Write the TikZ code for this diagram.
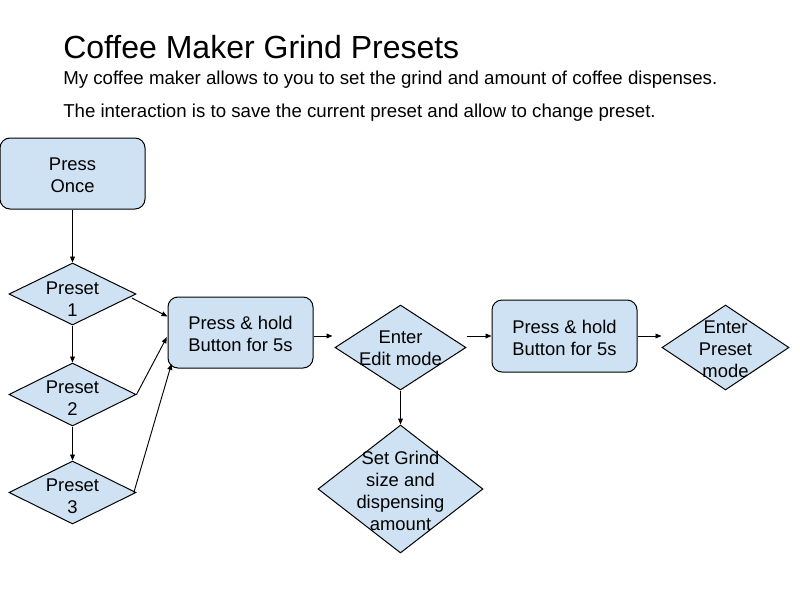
\documentclass[tikz,border=0pt]{standalone}
\usepackage{fontspec}
\setmainfont{Liberation Sans}
\usetikzlibrary{shapes.geometric,arrows.meta,calc}
\definecolor{boxfill}{HTML}{CFE2F3}
\tikzset{
  rbox/.style={draw=black, fill=boxfill, line width=0.75pt, rounded corners=7.5pt, inner sep=0pt, minimum width=108.75pt, minimum height=53.25pt},
  dia/.style={draw=black, fill=boxfill, line width=0.75pt, diamond, inner sep=0pt},
  txt/.style={font=\fontsize{13.8pt}{16.5pt}\selectfont, align=center, inner sep=0pt, text=black},
  arr/.style={line width=0.7pt, -{Triangle[length=4.5pt,width=3.6pt]}},
}
\begin{document}
\begin{tikzpicture}[x=0.75pt,y=-0.75pt]
\useasboundingbox (0,0) rectangle (800,600);
\fill[white] (0,0) rectangle (800,600);
% header text
\node[anchor=base west, inner sep=0pt, font=\fontsize{24pt}{28pt}\selectfont] (title) at (63,58.3) {Coffee Maker Grind Presets};
\node[anchor=base west, inner sep=0pt, font=\fontsize{14pt}{17pt}\selectfont] (line1) at (63,84.3) {My coffee maker allows to you to set the grind and amount of coffee dispenses.};
\node[anchor=base west, inner sep=0pt, font=\fontsize{14pt}{17pt}\selectfont] (line2) at (63,117) {The interaction is to save the current preset and allow to change preset.};
% nodes
\node[rbox] (once) at (72.5,173.5) {};
\node[txt] (oncet) at (72.5,175.5) {Press\\Once};
\node[dia, minimum width=95.25pt, minimum height=46.5pt] (p1) at (72.5,294) {};
\node[txt] (p1t) at (72.5,299) {Preset\\1};
\node[dia, minimum width=95.25pt, minimum height=47.25pt] (p2) at (72.5,394.5) {};
\node[txt] (p2t) at (72.5,398) {Preset\\2};
\node[dia, minimum width=95.25pt, minimum height=47.25pt] (p3) at (72.5,492.5) {};
\node[txt] (p3t) at (72.5,496) {Preset\\3};
\node[rbox] (ph1) at (240.5,332.5) {};
\node[txt] (ph1t) at (240.5,334) {Press \& hold\\Button for 5s};
\node[dia, minimum width=98.25pt, minimum height=63.75pt] (edit) at (400.5,347.5) {};
\node[txt] (editt) at (400.5,348) {Enter\\Edit mode};
\node[dia, minimum width=123.75pt, minimum height=96pt] (sg) at (400.5,489) {};
\node[txt] (sgt) at (400.5,491) {Set Grind\\size and\\dispensing\\amount};
\node[rbox, minimum height=54pt] (ph2) at (564.5,336) {};
\node[txt] (ph2t) at (564.5,338) {Press \& hold\\Button for 5s};
\node[dia, minimum width=95.25pt, minimum height=63.75pt] (pm) at (725.5,347.5) {};
\node[txt] (pmt) at (725.5,349) {Enter\\Preset\\mode};
% connectors
\draw[arr] (once.south) -- (p1.north);
\draw[arr] (p1.south) -- (p2.north);
\draw[arr] (p2.south) -- (p3.north);
\draw[arr] ([xshift=-3.5pt,yshift=-3pt]p1.east) -- ([yshift=12pt]ph1.west);
\draw[arr] (p2.east) -- ([xshift=-0.5pt,yshift=-3.5pt]ph1.west);
\draw[arr] ([xshift=-2pt]p3.east) -- ([xshift=3pt,yshift=3.5pt]ph1.south west);
\draw[arr] ([yshift=-2.6pt]ph1.east) -- ([xshift=-1.5pt,yshift=-2.6pt]ph1.east -| edit.west);
\draw[arr] (edit.south) -- (sg.north);
\draw[arr] (ph2.west -| edit.east) -- (ph2.west);
\draw[arr] (ph2.east) -- (ph2.east -| pm.west);
\end{tikzpicture}
\end{document}
